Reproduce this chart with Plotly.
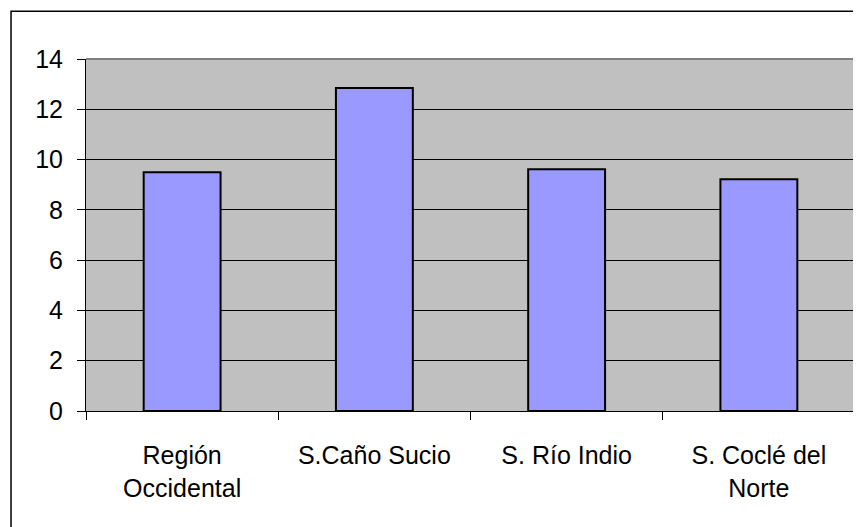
import plotly.graph_objects as go

categories = ["Región<br>Occidental", "S.Caño Sucio", "S. Río Indio", "S. Coclé del<br>Norte"]
values = [9.5, 12.85, 9.62, 9.22]
y_ticks = [0, 2, 4, 6, 8, 10, 12, 14]

fig = go.Figure(go.Bar(
    x=categories, y=values,
    marker=dict(color="#9999FF", line=dict(color="black", width=2)),
    hoverinfo="skip",
))

font = dict(family="Liberation Sans, Arial, sans-serif", size=25, color="black")

fig.update_layout(
    width=861, height=527,
    margin=dict(l=78, r=14, t=51, b=124),
    paper_bgcolor="white",
    plot_bgcolor="#C0C0C0",
    bargap=0.6,
    showlegend=False,
    font=font,
    xaxis=dict(
        showline=True, linecolor="black", linewidth=1,
        ticks="outside", tickson="boundaries", ticklen=8, tickcolor="black",
        showgrid=False, tickfont=font, ticklabelstandoff=22,
    ),
    yaxis=dict(
        range=[0, 14], tickvals=y_ticks, ticktext=[str(v) for v in y_ticks],
        showline=True, linecolor="black", linewidth=1,
        ticks="outside", ticklen=8, tickcolor="black",
        showgrid=True, gridcolor="black", gridwidth=1,
        zeroline=False, tickfont=font, ticklabelstandoff=9,
    ),
    shapes=[
        dict(type="line", xref="paper", yref="paper", x0=0, x1=1, y0=1, y1=1,
             line=dict(color="#808080", width=2)),
        dict(type="line", xref="paper", yref="paper", x0=1, x1=1, y0=0, y1=1,
             line=dict(color="#808080", width=2)),
        dict(type="rect", xref="paper", yref="paper", x0=-0.0975, x1=1.2, y0=-0.6, y1=1.136,
             line=dict(color="black", width=1.5), layer="above"),
    ],
)

fig.write_html("out.html")
